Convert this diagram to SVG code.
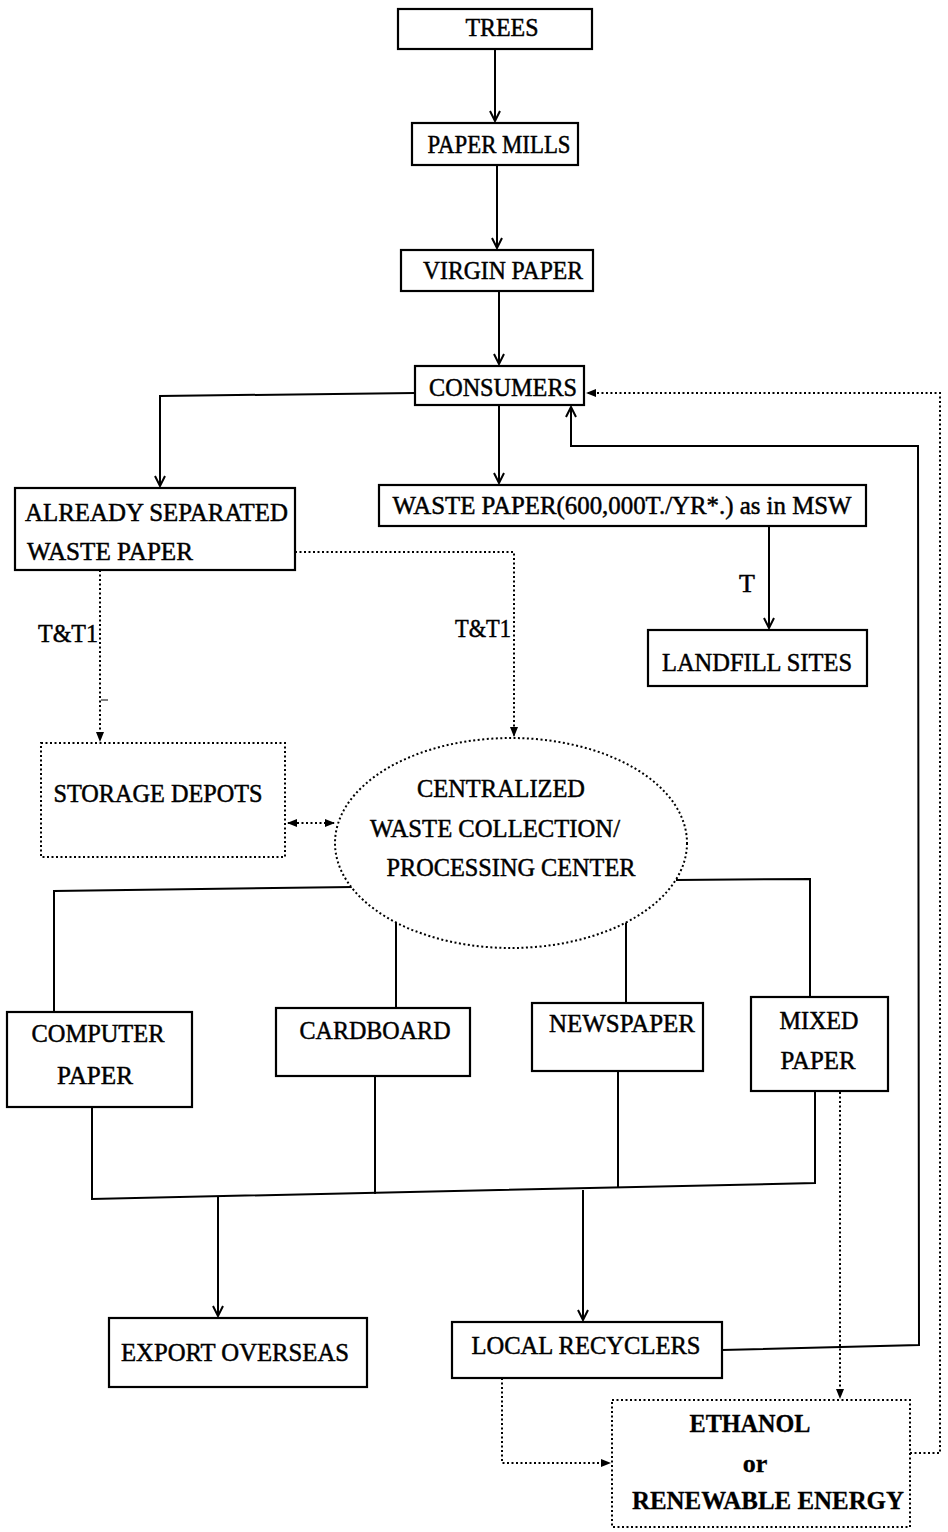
<svg xmlns="http://www.w3.org/2000/svg" width="948" height="1532" viewBox="0 0 948 1532">
<defs>
<style>
.box{fill:#fff;stroke:#000;stroke-width:2.2}
.dbox{fill:#fff;stroke:#000;stroke-width:2;stroke-dasharray:2 2.5}
.ln{fill:none;stroke:#000;stroke-width:2}
.dl{fill:none;stroke:#000;stroke-width:2;stroke-dasharray:2 2.5}
.t{font-family:"Liberation Serif","Times New Roman",serif;font-size:26px;fill:#000;stroke:#000;stroke-width:0.5;text-anchor:middle}
.b{font-weight:bold;stroke-width:0.3}
</style>
<marker id="arr" viewBox="0 0 12 12" refX="11" refY="6" markerWidth="12" markerHeight="12" markerUnits="userSpaceOnUse" orient="auto">
<path d="M1,1 L11,6 L1,11" fill="none" stroke="#000" stroke-width="2"/>
</marker>
<marker id="arrd" viewBox="0 0 10 10" refX="9" refY="5" markerWidth="10" markerHeight="10" markerUnits="userSpaceOnUse" orient="auto-start-reverse">
<path d="M0,1 L10,5 L0,9 Z" fill="#000"/>
</marker>
</defs>
<rect width="948" height="1532" fill="#fff"/>

<g id="connectors">
<path class="ln" d="M495,49 V121" marker-end="url(#arr)"/>
<path class="ln" d="M497,165 V248" marker-end="url(#arr)"/>
<path class="ln" d="M499,291 V364" marker-end="url(#arr)"/>
<path class="ln" d="M415,393 L160,396 V486" marker-end="url(#arr)"/>
<path class="ln" d="M499,405 V483" marker-end="url(#arr)"/>
<path class="ln" d="M769,526 V628" marker-end="url(#arr)"/>
<path class="dl" d="M100,570 V741" marker-end="url(#arrd)"/>
<path class="dl" d="M295,552 H514 V736" marker-end="url(#arrd)"/>
<path class="dl" d="M288,823 H334" marker-start="url(#arrd)" marker-end="url(#arrd)"/>
<path class="ln" d="M722,1350 L919,1345 L918,446 H571 V407" marker-end="url(#arr)"/>
<path class="dl" d="M910,1453 H940 V393 H587" marker-end="url(#arrd)"/>
<path class="ln" d="M353,887 L54,891 V1011"/>
<path class="ln" d="M676,880 L810,879 V996"/>
<path class="ln" d="M396,922 V1007"/>
<path class="ln" d="M626,922 V1002"/>
<path class="ln" d="M92,1107 V1199 L815,1183 V1091"/>
<path class="ln" d="M375,1076 V1194"/>
<path class="ln" d="M618,1071 V1188"/>
<path class="ln" d="M218,1197 V1316" marker-end="url(#arr)"/>
<path class="ln" d="M583,1190 V1320" marker-end="url(#arr)"/>
<path class="dl" d="M840,1092 V1398" marker-end="url(#arrd)"/>
<path class="dl" d="M502,1378 V1463 H610" marker-end="url(#arrd)"/>
<line x1="101" y1="700" x2="108" y2="700" stroke="#000" stroke-width="1"/>
<text class="t" x="747" y="592">T</text>
<text class="t" x="98" y="642" style="text-anchor:end" textLength="60" lengthAdjust="spacingAndGlyphs">T&amp;T1</text>
<text class="t" x="511" y="637" style="text-anchor:end" textLength="56" lengthAdjust="spacingAndGlyphs">T&amp;T1</text>
</g>

<g id="trees"><rect class="box" x="398" y="9" width="194" height="40"/><text class="t" x="502" y="36" textLength="73" lengthAdjust="spacingAndGlyphs">TREES</text></g>
<g id="paper-mills"><rect class="box" x="412" y="123" width="166" height="42"/><text class="t" x="499" y="153" textLength="143" lengthAdjust="spacingAndGlyphs">PAPER MILLS</text></g>
<g id="virgin-paper"><rect class="box" x="401" y="250" width="192" height="41"/><text class="t" x="503" y="279" textLength="160" lengthAdjust="spacingAndGlyphs">VIRGIN PAPER</text></g>
<g id="consumers"><rect class="box" x="415" y="366" width="169" height="39"/><text class="t" x="503" y="396" textLength="148" lengthAdjust="spacingAndGlyphs">CONSUMERS</text></g>
<g id="already-separated"><rect class="box" x="15" y="488" width="280" height="82"/><text class="t" x="25" y="521" style="text-anchor:start" textLength="263" lengthAdjust="spacingAndGlyphs">ALREADY SEPARATED</text><text class="t" x="27" y="560" style="text-anchor:start" textLength="166" lengthAdjust="spacingAndGlyphs">WASTE PAPER</text></g>
<g id="waste-paper-msw"><rect class="box" x="379" y="485" width="487" height="41"/><text class="t" x="622" y="514" textLength="459" lengthAdjust="spacingAndGlyphs">WASTE PAPER(600,000T./YR*.) as in MSW</text></g>
<g id="landfill"><rect class="box" x="648" y="630" width="219" height="56"/><text class="t" x="757" y="671" textLength="190" lengthAdjust="spacingAndGlyphs">LANDFILL SITES</text></g>
<g id="storage-depots"><rect class="dbox" x="41" y="743" width="244" height="114"/><text class="t" x="158" y="802" textLength="209" lengthAdjust="spacingAndGlyphs">STORAGE DEPOTS</text></g>
<g id="processing-center"><ellipse class="dbox" cx="511" cy="843" rx="176" ry="105"/><text class="t" x="501" y="797" textLength="168" lengthAdjust="spacingAndGlyphs">CENTRALIZED</text><text class="t" x="495" y="837" textLength="250" lengthAdjust="spacingAndGlyphs">WASTE COLLECTION/</text><text class="t" x="511" y="876" textLength="249" lengthAdjust="spacingAndGlyphs">PROCESSING CENTER</text></g>
<g id="computer-paper"><rect class="box" x="7" y="1012" width="185" height="95"/><text class="t" x="98" y="1042" textLength="133" lengthAdjust="spacingAndGlyphs">COMPUTER</text><text class="t" x="95" y="1084" textLength="76" lengthAdjust="spacingAndGlyphs">PAPER</text></g>
<g id="cardboard"><rect class="box" x="276" y="1008" width="194" height="68"/><text class="t" x="375" y="1039" textLength="151" lengthAdjust="spacingAndGlyphs">CARDBOARD</text></g>
<g id="newspaper"><rect class="box" x="532" y="1003" width="171" height="68"/><text class="t" x="622" y="1032" textLength="146" lengthAdjust="spacingAndGlyphs">NEWSPAPER</text></g>
<g id="mixed-paper"><rect class="box" x="751" y="997" width="137" height="94"/><text class="t" x="819" y="1029" textLength="79" lengthAdjust="spacingAndGlyphs">MIXED</text><text class="t" x="818" y="1069" textLength="75" lengthAdjust="spacingAndGlyphs">PAPER</text></g>
<g id="export-overseas"><rect class="box" x="109" y="1318" width="258" height="69"/><text class="t" x="235" y="1361" textLength="228" lengthAdjust="spacingAndGlyphs">EXPORT OVERSEAS</text></g>
<g id="local-recyclers"><rect class="box" x="452" y="1322" width="270" height="56"/><text class="t" x="586" y="1354" textLength="229" lengthAdjust="spacingAndGlyphs">LOCAL RECYCLERS</text></g>
<g id="ethanol"><rect class="dbox" x="612" y="1400" width="298" height="127"/><text class="t b" x="750" y="1432" textLength="121" lengthAdjust="spacingAndGlyphs">ETHANOL</text><text class="t b" x="755" y="1472">or</text><text class="t b" x="768" y="1509" textLength="272" lengthAdjust="spacingAndGlyphs">RENEWABLE ENERGY</text></g>
</svg>
